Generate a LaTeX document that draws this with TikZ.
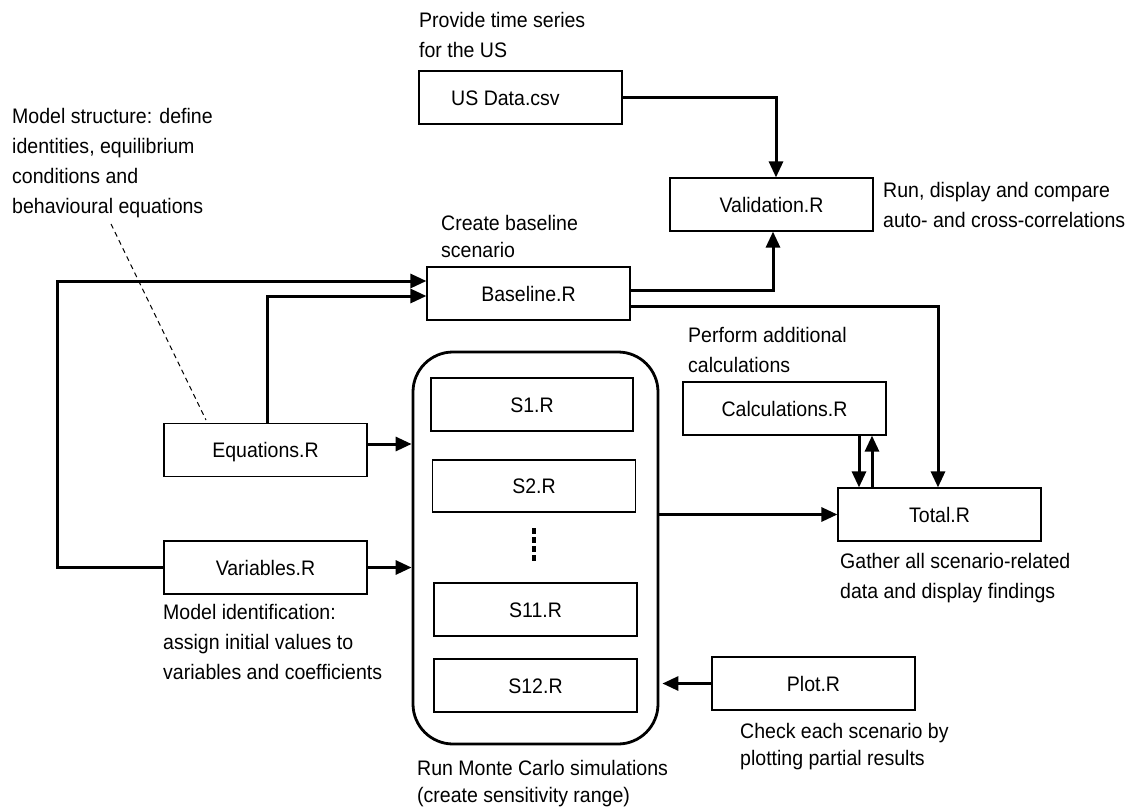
\documentclass[tikz,border=0pt]{standalone}
\usepackage{fontspec}
\setmainfont{Liberation Sans}[FakeStretch=0.93]
\usetikzlibrary{arrows.meta}
\begin{document}
\begin{tikzpicture}[x=1pt,y=-1pt,
  box/.style={draw, line width=1.2pt, minimum width=203pt, minimum height=53pt, inner sep=0pt,
    text height=15pt, text depth=0pt, font=\fontsize{21}{25}\selectfont},
  conn/.style={line width=3pt, -{Triangle[length=16pt,width=14pt]}},
  anno/.style={anchor=north west, inner sep=0pt, align=left, font=\fontsize{21}{30}\selectfont},
  annob/.style={anno, font=\fontsize{21}{27}\selectfont}]
\useasboundingbox (0,0) rectangle (1133,811);

% main boxes
\node[box] (usdata) at (520.5,97.5) {US Data.csv\hspace*{30pt}};
\node[box] (valid) at (771.5,204.5) {Validation.R};
\node[box] (base) at (528.5,293.5) {Baseline.R};
\node[box] (eq) at (265.5,450) {Equations.R};
\node[box] (var) at (265.5,567.5) {Variables.R};
\node[box] (calc) at (784.5,408.5) {Calculations.R};
\node[box] (total) at (939.5,514.5) {Total.R};
\node[box] (plot) at (813.5,683.5) {Plot.R};

% Monte Carlo container
\node[draw, line width=2.8pt, rounded corners=40pt, minimum width=245pt, minimum height=392pt, inner sep=0pt] (mc) at (535.5,548) {};
\node[box, minimum width=202pt] (s1) at (532,404.5) {S1.R};
\node[box, minimum height=52pt] (s2) at (534,486) {S2.R};
\node[box] (s11) at (535.5,609.5) {S11.R};
\node[box] (s12) at (535.5,685.5) {S12.R};
\coordinate (dotTop) at (534,528);
\coordinate (dotBot) at (534,563);
\draw[line width=3.6pt, dash pattern=on 5.5pt off 3.5pt] (dotTop) -- (dotBot);

% annotations
\node[anno] (aprov) at (419,12) {Provide time series\\for the US};
\node[anno] (amodel) at (12,108) {Model structure: define\\identities, equilibrium\\conditions and\\behavioural equations};
\node[annob] (acreate) at (441,215) {Create baseline\\scenario};
\node[anno] (arun) at (883,182) {Run, display and compare\\auto- and cross-correlations};
\node[anno] (aperf) at (688,327) {Perform additional\\calculations};
\node[anno] (agather) at (840,553) {Gather all scenario-related\\data and display findings};
\node[anno] (aident) at (163,604) {Model identification:\\assign initial values to\\variables and coefficients};
\node[annob] (amc) at (417,760) {Run Monte Carlo simulations\\(create sensitivity range)};
\node[annob] (acheck) at (740,723) {Check each scenario by\\plotting partial results};

% dashed pointer
\coordinate (dA) at (111,224);
\coordinate (dB) at (206,420);
\draw[line width=1pt, dash pattern=on 5pt off 4pt] (dA) -- (dB);

% connectors
\draw[conn] (usdata.east) -| ([xshift=4.5pt]valid.north);
\draw[conn] ([yshift=3.5pt]base.east) -| ([xshift=1.5pt]valid.south);
\draw[conn] ([yshift=-12.5pt]base.east) -| ([xshift=-1.5pt]total.north);
\draw[conn] ([xshift=74.5pt]calc.south) -- ([xshift=74.5pt]calc.south |- total.north);
\draw[conn] ([xshift=-67.5pt]total.north) -- ([xshift=-67.5pt]total.north |- calc.south);
\draw[conn] (mc.east |- total.west) -- (total.west);
\draw[conn] ([yshift=6pt]eq.east) -- ([yshift=6pt]eq.east -| mc.west);
\draw[conn] (var.east) -- (var.east -| mc.west);
\draw[conn, shorten >=3pt] (plot.west) -- (plot.west -| mc.east);
\draw[conn] ([xshift=1.5pt]eq.north) |- ([yshift=-2.5pt]base.west);
\coordinate (corner) at (57,281);
\draw[conn] (var.west) -| (corner) -- (corner -| base.west);
\end{tikzpicture}
\end{document}
